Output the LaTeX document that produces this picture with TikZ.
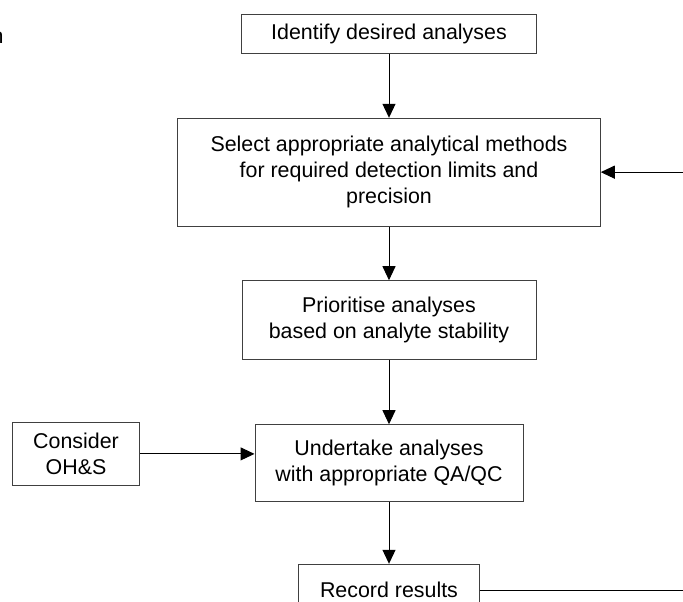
\documentclass[tikz,border=0pt]{standalone}
\usepackage{fontspec}
\setmainfont{Liberation Sans}
\usetikzlibrary{arrows.meta,positioning}
\tikzstyle{line} = [draw, line width=1pt, -{Triangle[length=14pt,width=13pt]}]
\tikzstyle{link} = [draw, line width=1pt]

\begin{document}
\begin{tikzpicture}[
            x = 1pt, y = -1pt, % pixel grid, y downwards
            node distance = 60pt, % distance between boxes
            font = \fontsize{21.4}{25.7}\selectfont
        ]

        \tikzstyle{block}=[
            draw = black!75,
            line width = 1pt,
            fill = white,
            align = center,
            inner sep = 0pt
        ]

        \clip (0,0) rectangle (683,602);

        \node[anchor=base west, inner sep=0pt] (stray) at (-8.5,44) {n};

        \node[block, minimum width=295pt, minimum height=39.4pt] (identify) at (389,34) {Identify desired analyses};
        \node[block, minimum width=422.5pt, minimum height=107.7pt] (select) [below=63.6pt of identify] {Select appropriate analytical methods\\for required detection limits and\\precision};
        \node[block, minimum width=294pt, minimum height=78.3pt] (prioritise) [below=53.7pt of select] {Prioritise analyses\\based on analyte stability};
        \node[block, minimum width=268pt, minimum height=77pt] (undertake) [below=64.7pt of prioritise] {Undertake analyses\\with appropriate QA/QC};
        \node[block, minimum width=127.6pt, minimum height=63.3pt] (consider) [left=114.2pt of undertake, yshift=9.3pt] {Consider\\OH\&S};
        \node[block, minimum width=180.3pt, minimum height=51.4pt] (record) [below=61.6pt of undertake] {Record results};

        \coordinate (rim) at (683,0);
        \coordinate (loopin) at (select.east -| rim);
        \coordinate (loopout) at (record.east -| rim);

        \draw[line] (identify) -- (select);
        \draw[line] (select) -- (prioritise);
        \draw[line] (prioritise) -- (undertake);
        \draw[line] (undertake) -- (record);
        \draw[line] (consider.east) -- (consider.east -| undertake.west);
        \draw[line] (loopin) -- (select.east);
        \draw[link] (record.east) -- (loopout);

    \end{tikzpicture}
\end{document}
